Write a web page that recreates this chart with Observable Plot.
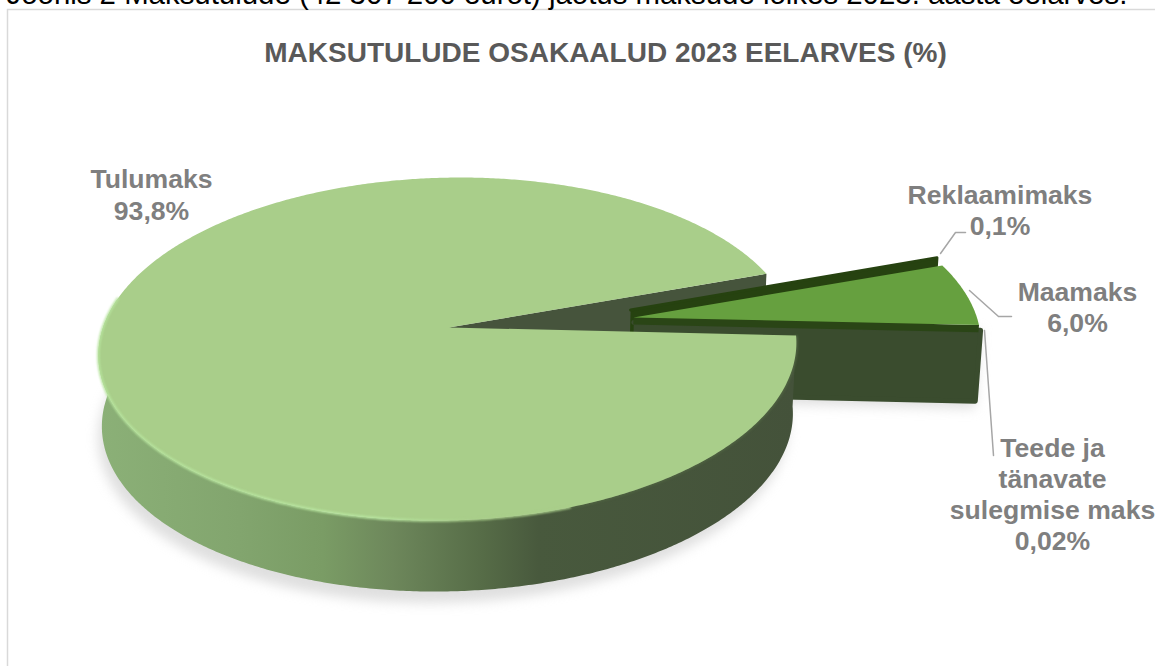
<!DOCTYPE html>
<html><head><meta charset="utf-8">
<script src="https://cdn.jsdelivr.net/npm/d3@7"></script>
<script src="https://cdn.jsdelivr.net/npm/@observablehq/plot@0.6"></script>
<style>
html,body{margin:0;padding:0;background:#fff;overflow:hidden}
.shadow{filter:blur(6px)}
.soft{filter:blur(1.2px)}
</style></head><body><div id="chart"></div>
<script>
// ---- data ----
const categories = ["Tulumaks", "Reklaamimaks", "Maamaks", "Teede ja\ntänavate\nsulegmise maks"];
const shares = [93.8, 0.1, 6.0, 0.02];
const shareLabels = ["93,8%", "0,1%", "6,0%", "0,02%"];
const heading = "Joonis 2 Maksutulude (42 307 200 eurot) jaotus maksude lõikes 2023. aasta eelarves.";
const chartTitle = "MAKSUTULUDE OSAKAALUD 2023 EELARVES (%)";

// ---- layout ----
const W = 1155, H = 666;
const cx = 447, cy = 327, R = 346, Ry = 168.8, k = 0.1255, depth = 71, shear = 0.075, shearY = 347;
const startDeg = 2.7;
const explode = [[0, 0], [0.528, -0.105], [0.535, -0.06], [0.535, -0.03]];
const labelAt = [[151, 193.5], [999.5, 209], [1077, 306], [1052, 493]];
const leaders = [
  [[940, 253], [955, 232], [965, 232]],
  [[969, 290], [998, 316], [1011, 316]],
  [[984, 330], [993, 455]]
];

// ---- geometry derived from the shares ----
const total = d3.sum(shares);
let acc = startDeg;
const spans = shares.map(v => { const a0 = acc; acc += v / total * 360; return [a0, acc]; });
const proj = (X, Y, z = 0) => {
  const s = 1 / (1 - k * Y);
  const y = cy + Ry * Y * s;
  return {x: cx + R * X * s * (1 - 0.01 * z) - shear * (y - shearY), y: y + depth * z};
};
const rad = d => d * Math.PI / 180;
const arc = (a0, a1, off, z = 0, step = 0.5) => {
  const n = Math.max(1, Math.ceil(Math.abs(a1 - a0) / step));
  return d3.range(n + 1).map(i => {
    const a = rad(a0 + (a1 - a0) * i / n);
    return proj(Math.cos(a) + off[0], Math.sin(a) + off[1], z);
  });
};
const apex = (off, z = 0) => proj(off[0], off[1], z);
const topFace = i => [apex(explode[i]), ...arc(spans[i][0], spans[i][1], explode[i]), apex(explode[i])];
const cutWall = (deg, off, z = 1) => {
  const a = rad(deg), rim = [Math.cos(a) + off[0], Math.sin(a) + off[1]];
  return [apex(off), proj(rim[0], rim[1]), proj(rim[0], rim[1], z), apex(off, z)];
};
const poly = (pts, fill, extra = {}) =>
  Plot.line(pts, {x: "x", y: "y", fill, stroke: "none", ...extra});
const rimWall = [...arc(spans[0][0], 190, explode[0]), ...arc(190, spans[0][0], explode[0], 1)];
const shadowFull = arc(0, 360, [-0.012, 0], 1.16);

const marks = [
  // frame
  Plot.ruleX([7], {y1: 9, y2: H, stroke: "#d9d9d9", strokeWidth: 1.5}),
  Plot.ruleY([9], {x1: 7, x2: W, stroke: "#d9d9d9", strokeWidth: 1.5}),
  // ground shadow
  poly(shadowFull, "#bfbfbf", {className: "shadow", fillOpacity: 0.5}),
  poly(cutWall(spans[3][1], explode[3], 1.1), "#c4c4c4", {className: "shadow", fillOpacity: 0.55}),
  // back cut face of the large slice
  poly(cutWall(spans[0][1], explode[0]), "#46543c"),
  // exploded slices
  poly(cutWall(spans[1][0], explode[1]), "#264210", {stroke: "#264210", strokeWidth: 3, strokeLinejoin: "round"}),
  poly(cutWall(spans[3][0], explode[3]), "#3a4c2e", {stroke: "#3a4c2e", strokeWidth: 5, strokeLinejoin: "round"}),
  poly(cutWall(spans[2][1], explode[2], 0.1), "#2a4516"),
  poly(topFace(2), "#66a03f"),
  // large slice
  poly(rimWall, "url(#wallGrad)"),
  poly(arc(3, 70, explode[0]), "none", {stroke: "#4f6341", strokeWidth: 3, className: "soft"}),
  poly(topFace(0), "#a9ce8a"),
  poly(arc(70, 190, explode[0]), "none", {stroke: "url(#rimGrad)", strokeWidth: 2.5, className: "soft"}),
  // leader lines
  ...leaders.map(l => Plot.line(l, {x: d => d[0], y: d => d[1], stroke: "#a6a6a6", strokeWidth: 1.5})),
  // text
  Plot.text([heading], {x: 6, y: 3.5, text: d => d, textAnchor: "start", lineAnchor: "bottom", fontSize: 29.4, fill: "#000", fontFamily: "Liberation Sans"}),
  Plot.text([chartTitle], {x: 605, y: 53, text: d => d, fontSize: 28, fontWeight: "bold", fill: "#595959", fontFamily: "Liberation Sans"}),
  Plot.text(categories, {
    x: (d, i) => labelAt[i][0], y: (d, i) => labelAt[i][1],
    text: (d, i) => d + "\n" + shareLabels[i],
    fontSize: 26.6, fontWeight: "bold", fill: "#7f7f7f", lineHeight: 1.17, fontFamily: "Liberation Sans"
  })
];

const chart = Plot.plot({
  width: W, height: H, margin: 0,
  x: {domain: [0, W], range: [0, W], axis: null},
  y: {domain: [0, H], range: [0, H], axis: null},
  style: {background: "#fff", overflow: "hidden"},
  marks
});
const stops = (id, x1, x2, list) => `<linearGradient id="${id}" gradientUnits="userSpaceOnUse" x1="${x1}" x2="${x2}" y1="0" y2="0">` +
  list.map(([o, c]) => `<stop offset="${o}" stop-color="${c}"/>`).join("") + `</linearGradient>`;
const defs = document.createElementNS("http://www.w3.org/2000/svg", "defs");
defs.innerHTML =
  stops("wallGrad", 100, 795, [[0, "#8bb077"], [0.2, "#82a56e"], [0.32, "#7a9c65"], [0.42, "#6d875b"], [0.55, "#566c47"], [0.63, "#48593d"], [1, "#44523a"]]) +
  stops("rimGrad", 100, 470, [[0, "#b6e39c"], [0.75, "#b8e6a0"], [1, "#a9ce8a"]]);
chart.insertBefore(defs, chart.firstChild);
document.getElementById("chart").append(chart);
</script></body></html>
